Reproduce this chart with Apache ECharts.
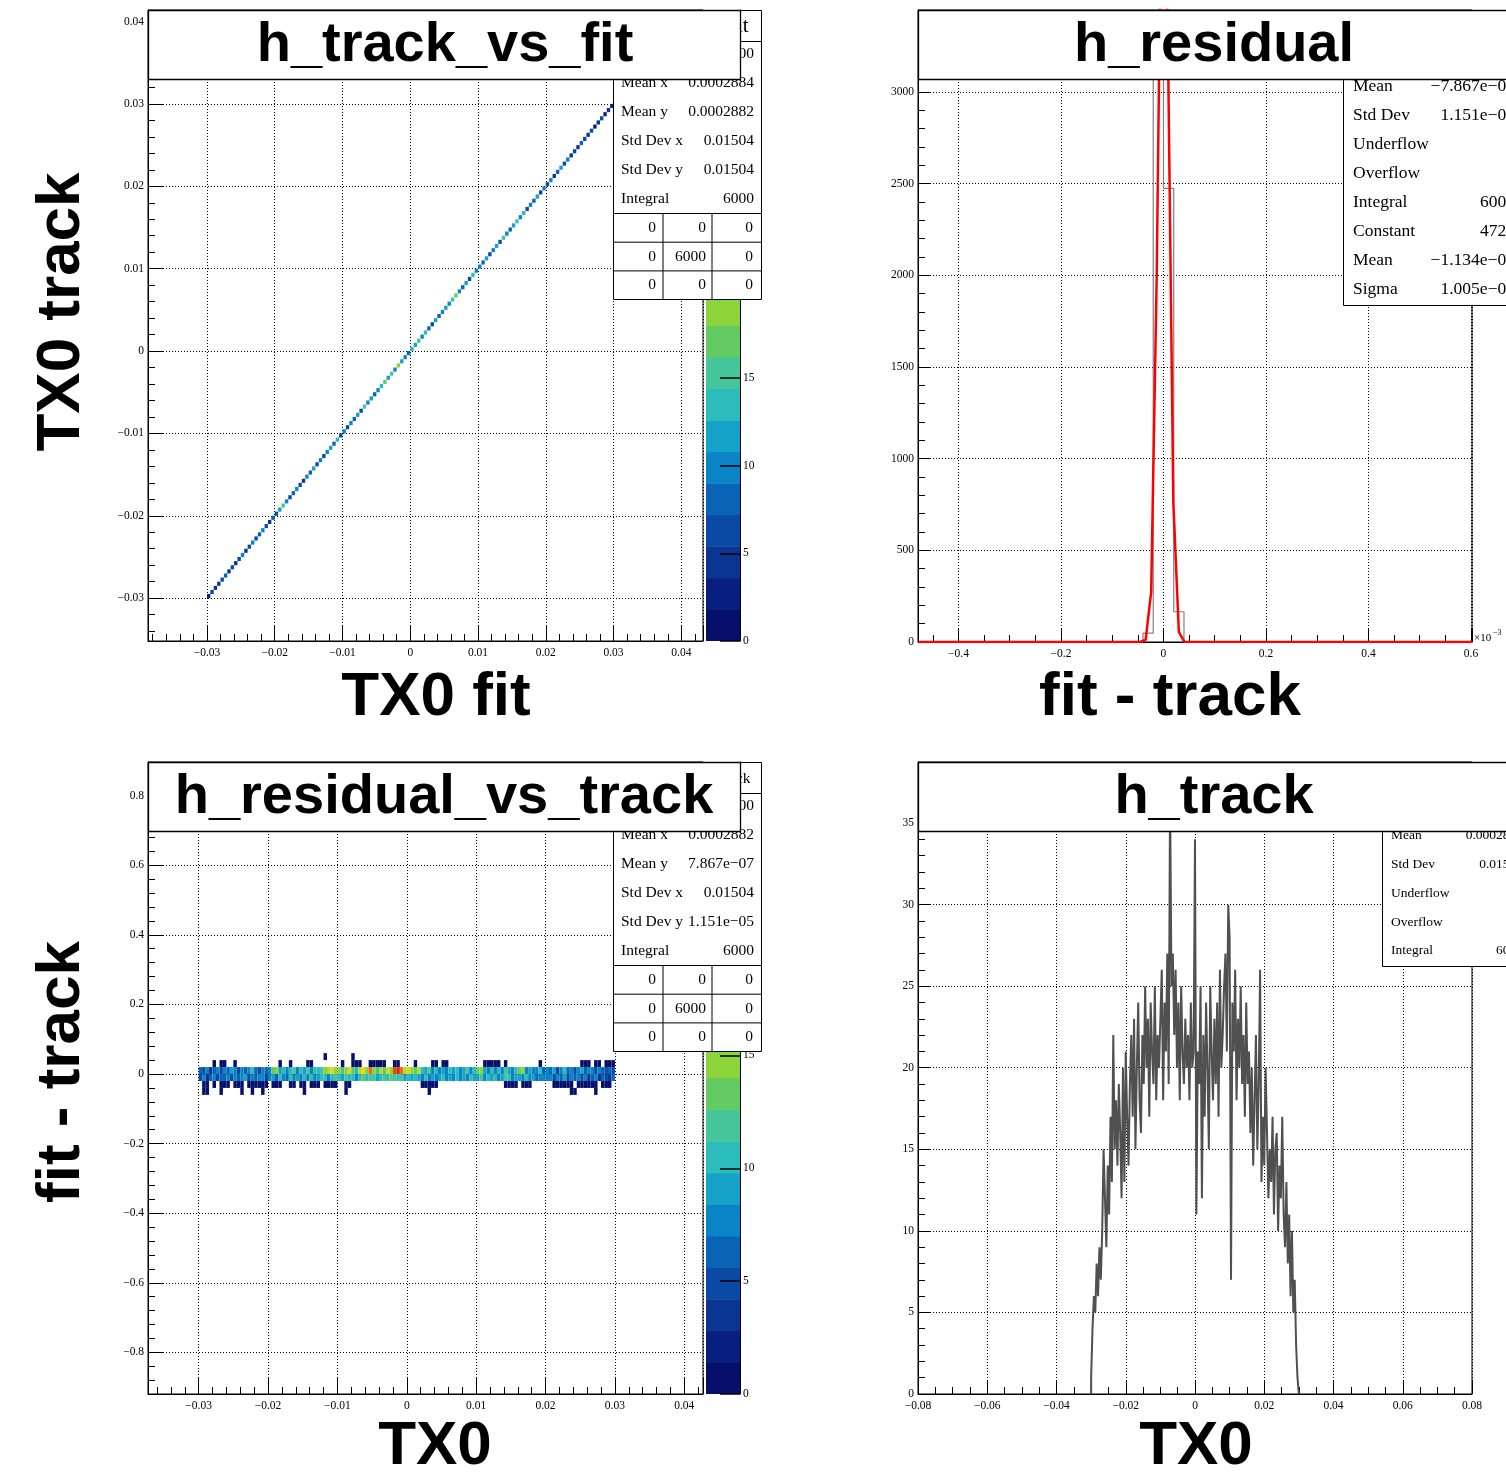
<!DOCTYPE html>
<html><head><meta charset="utf-8">
<script src="https://cdn.jsdelivr.net/npm/echarts@6/dist/echarts.min.js"></script>
<style>html,body{margin:0;padding:0;background:#fff}#c{width:1506px;height:1482px}</style>
</head><body><div id="c"></div>
<script>
// ================= DATA =================
const panelTitles = ['h_track_vs_fit', 'h_residual', 'h_residual_vs_track', 'h_track'];
const xAxisTitles = ['TX0 fit', 'fit - track', 'TX0', 'TX0'];
const yAxisTitles = ['TX0 track', 'fit - track'];

// h_track_vs_fit : counts along the diagonal (bins of width diagBinWidth from diagBinStart)
const diagBinStart = -0.03;
const diagBinWidth = 0.0005;
const diagCounts = [3,6,5,4,7,8,5,6,4,7, 9,5,7,10,6,8,9,6,5,8, 7,11,16,9,6,8,10,7,5,9,
  8,12,7,10,6,9,11,8,14,7, 9,6,10,8,12,7,15,9,11,8, 10,13,17,11,15,9,18,12,10,8,
  14,11,16,9,13,8,7,11,8,10, 12,9,15,17,10,8,11,7,13,9, 10,8,12,6,9,11,7,15,10,8,
  11,16,9,13,7,10,8,12,6,9, 7,10,5,8,11,6,9,4,7,5, 8,6,4,7,3,5,6,2,4,2];

// h_residual : histogram bin edges and counts, Gaussian fit curve points
const residualEdges = [-0.04, -0.02, 0, 0.02, 0.04];
const residualCounts = [48, 3313, 2474, 165];
const fitX = [-0.479, -0.0456, -0.0348, -0.0240, -0.0132, -0.0024, 0.0084, 0.0192, 0.0300, 0.0408, 0.602];
const fitY = [0, 0.1, 12, 273, 1996, 4593, 3336, 762, 55, 1, 0];

// h_residual_vs_track : columns from rtBinStart, width rtBinWidth; rows of height rtRowHeight
const rtBinStart = -0.03;
const rtBinWidth = 0.0005;
const rtRowHeight = 0.02;
const rtRowUpper = [6,5,7,4,6,8,5,7,6,9, 7,5,8,6,7,10,6,5,7,6,
  8,13,14,9,11,7,10,12,8,11, 9,12,7,10,11,12,14,16,18,15,
  15,12,14,17,13,11,16,19,14,24, 15,12,16,13,18,14,26,27,25,16,
  17,15,13,16,11,9,12,8,10,7, 9,8,11,9,10,7,9,12,8,10,
  13,14,9,8,11,8,10,7,12,9, 8,11,13,14,8,9,7,8,10,6,
  8,6,9,5,7,10,6,8,5,7, 9,6,7,8,5,7,6,5,6,5];
const rtRowLower = [5,7,4,6,7,5,6,6,8,5, 7,6,7,9,5,7,6,7,8,5,
  7,9,6,10,8,6,10,7,9,7, 10,8,11,7,9,11,10,8,10,12,
  11,9,12,10,11,8,11,13,10,12, 12,9,11,12,10,13,12,11,12,9,
  10,9,11,9,8,10,8,9,7,9, 10,8,9,8,11,7,9,8,10,9,
  9,12,8,10,9,11,7,9,12,10, 8,9,9,7,10,8,9,6,8,8,
  7,8,5,7,6,9,5,7,6,7, 5,7,4,6,7,4,6,5,4,6];
// sparse single-count cells: column indices for rows +2, +3, -2, -3
const rtSparseP2 = [4,6,7,10,23,26,31,32,41,44,45,46,49,50,51,52,53,56,57,62,67,68,70,71,82,83,84,85,86,88,98,110,111,112,114,115,117,118,119];
const rtSparseP3 = [36, 44];
const rtSparseM2 = [1,2,4,6,7,8,10,11,12,14,15,16,17,18,19,21,22,23,26,27,29,30,32,33,34,36,37,38,39,42,43,64,65,66,67,68,88,89,90,91,93,94,95,102,103,104,105,106,107,109,110,111,112,113,114,116,117,118];
const rtSparseM3 = [1,2,6,12,15,18,30,42,66,107,108,114];

// h_track : histogram counts
const trackBinStart = -0.03;
const trackBinWidth = 0.0004;
const trackCounts = [1,4,6,5,8,6,9,7,10,15, 12,9,14,11,17,13,22,15,18,14,
  19,16,12,20,13,21,17,14,19,22, 17,23,15,20,24,18,16,22,19,25,
  20,23,17,24,21,19,25,18,22,20, 23,26,18,24,21,27,19,37,25,27,
  22,26,20,24,18,25,21,19,23,20, 22,18,24,20,21,34,11,21,19,25,
  12,22,17,24,20,15,25,21,18,23, 19,24,17,26,20,22,25,27,21,30,
  28,7,24,21,26,18,23,20,25,19, 22,17,24,19,21,16,20,14,18,22,
  15,19,26,13,17,14,20,16,12,15, 13,17,11,15,16,10,14,12,17,11,
  9,13,8,11,6,10,5,7,3,1];

// colour-scale maxima
const zmaxTrackVsFit = 36;
const zmaxResVsTrack = 28;

// statistics boxes
const statsTrackVsFit = [['Entries','6000'],['Mean x','0.0002884'],['Mean y','0.0002882'],['Std Dev x','0.01504'],['Std Dev y','0.01504'],['Integral','6000']];
const statsResidual = [['Entries','6000'],['Mean','\u22127.867e\u221207'],['Std Dev','1.151e\u221205'],['Underflow','0'],['Overflow','0'],['Integral','6000'],['Constant','4726'],['Mean','\u22121.134e\u221207'],['Sigma','1.005e\u221205']];
const statsResVsTrack = [['Entries','6000'],['Mean x','0.0002882'],['Mean y','7.867e\u221207'],['Std Dev x','0.01504'],['Std Dev y','1.151e\u221205'],['Integral','6000']];
const statsTrack = [['Entries','6000'],['Mean','0.0002882'],['Std Dev','0.01504'],['Underflow','0'],['Overflow','0'],['Integral','6000']];
const overflowTable = [[0,0,0],[0,6000,0],[0,0,0]];

// ================= STYLE / BUILD =================
const palette = ['#06106b','#081f7f','#0a3592','#0a4aa4','#0964b8','#0a84c6','#14a2c9','#2bbcbb','#45c59a','#62cb64',
                 '#8dd43b','#b3d92a','#d4da22','#eed51f','#f8c31c','#f8a71a','#f58a17','#ef6a14','#e64812','#d82a10'];
function levelColor(c, zmax) {
  let k = Math.floor(c / zmax * palette.length);
  if (k < 0) k = 0; if (k >= palette.length) k = palette.length - 1;
  return palette[k];
}
function fmtNum(v) {
  const s = String(parseFloat(Number(v).toPrecision(10)));
  return s.replace('-', '\u2212');
}
const SERIF = '"Liberation Serif", "Times New Roman", serif';
const SANS = '"Liberation Sans", Arial, Helvetica, sans-serif';

function valAxis(gi, min, max, opt) {
  opt = opt || {};
  const ax = {
    type: 'value', gridIndex: gi, min: min, max: max,
    axisLine: { show: true, onZero: false, lineStyle: { color: '#000', width: 1 } },
    axisTick: { show: true, inside: true, length: opt.tickLen || 14, lineStyle: { color: '#000', width: opt.tickWidth || 1 } },
    minorTick: { show: opt.minor !== 0, splitNumber: opt.minor || 5, length: 7, lineStyle: { color: '#000', width: 1 } },
    splitLine: { show: opt.grid !== false, lineStyle: { color: '#000', width: 1, type: [1, 2] } },
    minorSplitLine: { show: false },
    axisLabel: { show: true, color: '#000', fontFamily: SERIF, fontSize: 11.5, margin: opt.margin || 6,
      formatter: fmtNum, showMinLabel: opt.showMin === true, showMaxLabel: opt.showMax === true }
  };
  if (opt.interval !== undefined) ax.interval = opt.interval;
  if (opt.splitNumber !== undefined) ax.splitNumber = opt.splitNumber;
  if (opt.position) ax.position = opt.position;
  if (opt.z !== undefined) ax.z = opt.z;
  return ax;
}
function hiddenAxis(gi, min, max) {
  return { type: 'value', gridIndex: gi, min: min, max: max, show: false,
    axisLine: { show: false }, axisTick: { show: false }, axisLabel: { show: false }, splitLine: { show: false } };
}

// cell data  [x0, x1, y0, y1, count]
const diagCells = diagCounts.map((c, i) => {
  const a = diagBinStart + i * diagBinWidth, b = a + diagBinWidth;
  return [a, b, a, b, c];
}).filter(d => d[4] > 0);

const rtCells = [];
rtRowUpper.forEach((c, i) => { if (c > 0) rtCells.push([rtBinStart + i * rtBinWidth, rtBinStart + (i + 1) * rtBinWidth, 0, rtRowHeight, c]); });
rtRowLower.forEach((c, i) => { if (c > 0) rtCells.push([rtBinStart + i * rtBinWidth, rtBinStart + (i + 1) * rtBinWidth, -rtRowHeight, 0, c]); });
[[rtSparseP2, 1], [rtSparseP3, 2], [rtSparseM2, -2], [rtSparseM3, -3]].forEach(([cols, row]) => {
  const y0 = row * rtRowHeight;
  cols.forEach(i => rtCells.push([rtBinStart + i * rtBinWidth, rtBinStart + (i + 1) * rtBinWidth, y0, y0 + rtRowHeight, 1]));
});

function cellSeries(name, xi, yi, data, zmax) {
  return {
    type: 'custom', name: name, xAxisIndex: xi, yAxisIndex: yi, clip: true,
    dimensions: ['x0', 'x1', 'y0', 'y1', 'c'], encode: { x: [0, 1], y: [2, 3] },
    data: data,
    renderItem: function (params, api) {
      const p0 = api.coord([api.value(0), api.value(3)]);
      const p1 = api.coord([api.value(1), api.value(2)]);
      return { type: 'rect', shape: { x: p0[0], y: p0[1], width: p1[0] - p0[0], height: p1[1] - p0[1] },
        style: { fill: levelColor(api.value(4), zmax), stroke: null } };
    }
  };
}
function colorBarSeries(xi, yi, zmax) {
  const n = palette.length, data = [];
  for (let k = 0; k < n; k++) data.push([0, 1, zmax * k / n, zmax * (k + 1) / n, k]);
  return {
    type: 'custom', xAxisIndex: xi, yAxisIndex: yi, clip: true, silent: true, z: 1,
    dimensions: ['x0', 'x1', 'y0', 'y1', 'k'], encode: { x: [0, 1], y: [2, 3] }, data: data,
    renderItem: function (params, api) {
      const p0 = api.coord([api.value(0), api.value(3)]);
      const p1 = api.coord([api.value(1), api.value(2)]);
      return { type: 'rect', shape: { x: p0[0], y: p0[1], width: p1[0] - p0[0], height: p1[1] - p0[1] + 0.5 },
        style: { fill: palette[api.value(4)] } };
    }
  };
}

// histogram outlines
const p2Min = -0.479, p2Max = 0.602;
const residualLine = [[p2Min, 0]];
residualEdges.forEach((e, i) => residualLine.push([e, i < residualCounts.length ? residualCounts[i] : 0]));
residualLine.push([p2Max, 0]);
const fitLine = fitX.map((x, i) => [x, fitY[i]]);
const trackLine = [[trackBinStart, 0]];
trackCounts.forEach((c, i) => trackLine.push([trackBinStart + i * trackBinWidth, c]));
trackLine.push([trackBinStart + trackCounts.length * trackBinWidth, 0]);

// ================= GRAPHICS (titles, stats boxes) =================
const gfx = [];
function txt(x, y, text, font, align, z, extra) {
  const el = { type: 'text', x: x, y: y, z: z, style: { text: text, font: font, fill: '#000',
    textAlign: align, align: align, textVerticalAlign: 'middle', verticalAlign: 'middle' } };
  if (extra) Object.assign(el, extra);
  gfx.push(el);
}
function box(x, y, w, h, z, lw) {
  gfx.push({ type: 'rect', z: z, shape: { x: x, y: y, width: w, height: h }, style: { fill: '#fff', stroke: '#000', lineWidth: lw || 1 } });
}
function seg(x1, y1, x2, y2, z) {
  gfx.push({ type: 'line', z: z, shape: { x1: x1, y1: y1, x2: x2, y2: y2 }, style: { stroke: '#000', lineWidth: 1 } });
}
// 2D stats boxes (with overflow table)
function stats2D(top, header, headerSize, rows) {
  const L = 613.5, R = 761.5;
  box(L, top, R - L, 289, 100);
  seg(L, top + 31, R, top + 31, 101);
  txt(688, top + 16, header, headerSize + 'px ' + SERIF, 'center', 101);
  rows.forEach((r, k) => {
    const y = top + 43 + 29 * k;
    txt(621, y, r[0], '15.5px ' + SERIF, 'left', 101);
    txt(754, y, r[1], '15.5px ' + SERIF, 'right', 101);
  });
  const t0 = top + 203;
  seg(L, t0, R, t0, 101);
  seg(L, t0 + 28.7, R, t0 + 28.7, 101);
  seg(L, t0 + 57.4, R, t0 + 57.4, 101);
  seg(663, t0, 663, top + 289, 101);
  seg(712, t0, 712, top + 289, 101);
  const colR = [656, 706, 753];
  overflowTable.forEach((row, r) => row.forEach((v, c) => {
    txt(colR[c], t0 + 14.3 + 28.7 * r, String(v), '15.5px ' + SERIF, 'right', 101);
  }));
}
stats2D(10.5, panelTitles[0], 21, statsTrackVsFit);
stats2D(762.5, panelTitles[2], 15.5, statsResVsTrack);
// 1D stats boxes
function stats1D(left, top, height, header, rows, fs, labelX, valueR, rowStart, rowStep) {
  box(left, top, 220, height, 100);
  seg(left, top + 31, left + 220, top + 31, 101);
  txt(left + 100, top + 16, header, fs + 'px ' + SERIF, 'center', 101);
  rows.forEach((r, k) => {
    const y = rowStart + rowStep * k;
    txt(labelX, y, r[0], fs + 'px ' + SERIF, 'left', 101);
    txt(valueR, y, r[1], fs + 'px ' + SERIF, 'right', 101);
  });
}
stats1D(1343.5, 10.5, 295, panelTitles[1], statsResidual, 17.5, 1353, 1515, 58, 28.9);
stats1D(1382.5, 762.5, 204, panelTitles[3], statsTrack, 13.5, 1391, 1523, 807, 28.75);

// title boxes
const TITLE_FONT = 'bold 56px ' + SANS;
box(148.5, 10.5, 592, 69, 110, 1.3); txt(445, 46, panelTitles[0], TITLE_FONT, 'center', 111);
box(918.5, 10.5, 592, 69, 110, 1.3); txt(1214, 46, panelTitles[1], TITLE_FONT, 'center', 111);
box(148.5, 762.5, 592, 69, 110, 1.3); txt(444, 798, panelTitles[2], TITLE_FONT, 'center', 111);
box(918.5, 762.5, 592, 69, 110, 1.3); txt(1214, 798, panelTitles[3], TITLE_FONT, 'center', 111);

// axis titles
const AX_FONT = 'bold 62px ' + SANS;
txt(436, 698, xAxisTitles[0], AX_FONT, 'center', 90);
txt(1170, 698, xAxisTitles[1], AX_FONT, 'center', 90);
txt(435, 1447, xAxisTitles[2], AX_FONT, 'center', 90);
txt(1196, 1447, xAxisTitles[3], AX_FONT, 'center', 90);
txt(62, 312, yAxisTitles[0], AX_FONT, 'center', 90, { rotation: Math.PI / 2 });
txt(62, 1072, yAxisTitles[1], AX_FONT, 'center', 90, { rotation: Math.PI / 2 });
// x10^-3 exponent of residual axis
txt(1474, 638, '\u00d710', '11px ' + SERIF, 'left', 90);
txt(1493, 633, '\u22123', '8px ' + SERIF, 'left', 90);

// ================= OPTION =================
const option = {
  animation: false,
  backgroundColor: '#fff',
  textStyle: { fontFamily: SERIF, color: '#000' },
  grid: [
    { left: 148, top: 10, width: 555, height: 631, show: true, borderColor: '#000', borderWidth: 1, containLabel: false },
    { left: 918, top: 10, width: 554, height: 632, show: true, borderColor: '#000', borderWidth: 1, containLabel: false },
    { left: 148, top: 762, width: 555, height: 632, show: true, borderColor: '#000', borderWidth: 1, containLabel: false },
    { left: 918, top: 762, width: 554, height: 632, show: true, borderColor: '#000', borderWidth: 1, containLabel: false },
    { left: 706, top: 10, width: 34, height: 631, show: false, containLabel: false },
    { left: 706, top: 762, width: 34, height: 632, show: false, containLabel: false }
  ],
  xAxis: [
    valAxis(0, -0.0387, 0.0432, { splitNumber: 8, tickLen: 16 }),
    valAxis(1, p2Min, p2Max, { splitNumber: 5, minor: 4, tickLen: 13 }),
    valAxis(2, -0.0373, 0.0427, { splitNumber: 8, tickLen: 16 }),
    valAxis(3, -0.08, 0.08, { interval: 0.02, minor: 4, tickLen: 13, showMin: true, showMax: true }),
    hiddenAxis(4, 0, 1),
    hiddenAxis(5, 0, 1)
  ],
  yAxis: [
    valAxis(0, -0.0352, 0.0414, { splitNumber: 8, margin: 4, tickLen: 16 }),
    valAxis(1, 0, 3447, { interval: 500, margin: 4, tickLen: 13, showMin: true }),
    valAxis(2, -0.9195, 0.8966, { splitNumber: 9, margin: 4, tickLen: 16 }),
    valAxis(3, 0, 38.74, { interval: 5, margin: 4, tickLen: 13, showMin: true }),
    valAxis(4, 0, zmaxTrackVsFit, { interval: 5, minor: 0, grid: false, margin: 3, tickLen: 20, tickWidth: 1.5, position: 'right', showMin: true, z: 10 }),
    valAxis(5, 0, zmaxResVsTrack, { interval: 5, minor: 0, grid: false, margin: 3, tickLen: 20, tickWidth: 1.5, position: 'right', showMin: true, z: 10 })
  ],
  series: [
    cellSeries('h_track_vs_fit', 0, 0, diagCells, zmaxTrackVsFit),
    { type: 'line', name: 'h_residual', xAxisIndex: 1, yAxisIndex: 1, data: residualLine, step: 'end',
      symbol: 'none', showSymbol: false, clip: true, lineStyle: { color: '#808080', width: 1.2 }, itemStyle: { color: '#808080' }, z: 3 },
    { type: 'line', name: 'gaus fit', xAxisIndex: 1, yAxisIndex: 1, data: fitLine,
      symbol: 'none', showSymbol: false, clip: true, lineStyle: { color: '#ff0000', width: 2.5 }, itemStyle: { color: '#ff0000' }, z: 4 },
    cellSeries('h_residual_vs_track', 2, 2, rtCells, zmaxResVsTrack),
    { type: 'line', name: 'h_track', xAxisIndex: 3, yAxisIndex: 3, data: trackLine, step: 'end',
      symbol: 'none', showSymbol: false, clip: true, lineStyle: { color: '#505050', width: 2, join: 'miter' }, itemStyle: { color: '#505050' }, z: 3 },
    colorBarSeries(4, 4, zmaxTrackVsFit),
    colorBarSeries(5, 5, zmaxResVsTrack)
  ],
  graphic: { elements: gfx }
};
const chart = echarts.init(document.getElementById('c'), null, { renderer: 'canvas', width: 1506, height: 1482 });
chart.setOption(option);
</script>
</body></html>
